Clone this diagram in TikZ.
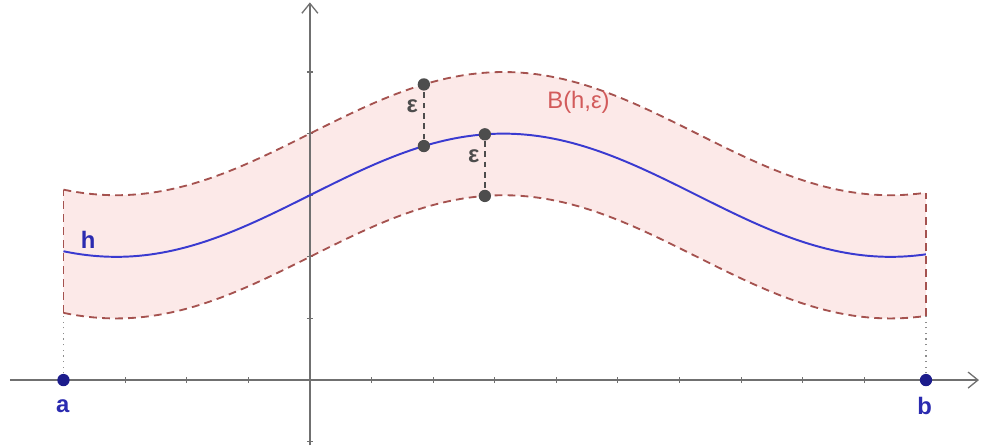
\documentclass[tikz,border=0pt]{standalone}
\usepackage{fontspec}
\setmainfont{Liberation Sans}
\usetikzlibrary{arrows.meta}
\definecolor{bandc}{HTML}{A5524F}
\definecolor{bandfill}{HTML}{FCE9E8}
\definecolor{curvec}{HTML}{3A3AD0}
\definecolor{ptc}{HTML}{1C1C8C}
\definecolor{labc}{HTML}{2B2BB0}
\definecolor{axc}{HTML}{707070}
\definecolor{dotc}{HTML}{4D4D4D}
\definecolor{bandlab}{HTML}{D25B5B}
\tikzset{
  axisline/.style={axc,line width=0.6pt,-{Straight Barb[length=1.6mm,width=2.6mm]}},
  tickmark/.style={axc,line width=0.5pt},
  bandline/.style={bandc,line width=0.85pt,dash pattern=on 3.6pt off 2.4pt},
  curveline/.style={curvec,line width=0.9pt},
  guide/.style={axc!80,line width=0.6pt,dotted},
  epsline/.style={dotc,line width=0.75pt,dash pattern=on 2.6pt off 2.2pt},
  dotpt/.style={circle,fill=dotc,inner sep=0pt,minimum size=2mm},
  endpt/.style={circle,fill=ptc,inner sep=0pt,minimum size=2mm},
  lab/.style={font=\fontsize{11pt}{13pt}\selectfont,inner sep=1pt}
}
\begin{document}
\begin{tikzpicture}[x=1cm,y=1cm,declare function={h(\x)=3+sin(deg(\x/2));}]
\useasboundingbox (-5.03,-1.088) rectangle (10.974,6.169);
% band fill
\fill[bandfill] plot[domain=-4:10,samples=120] (\x,{h(\x)+1}) -- plot[domain=10:-4,samples=120] (\x,{h(\x)-1}) -- cycle;
% axes
\coordinate (xs) at (-4.87,0);
\coordinate (xe) at (10.86,0);
\coordinate (ys) at (0,-1.06);
\coordinate (ye) at (0,6.13);
\draw[axisline] (xs) -- (xe);
\draw[axisline] (ys) -- (ye);
\foreach \i in {-4,...,10} {\draw[tickmark] (\i,-0.05) -- (\i,0.05);}
\foreach \j in {-1,...,5} {\draw[tickmark] (-0.05,\j) -- (0.05,\j);}
% end points
\node[endpt] (a) at (-4,0) {};
\node[endpt] (b) at (10,0) {};
\coordinate (aL) at (-4,{h(-4)-1});
\coordinate (aU) at (-4,{h(-4)+1});
\coordinate (bL) at (10,{h(10)-1});
\coordinate (bU) at (10,{h(10)+1});
\draw[guide] (a) -- (aL);
\draw[guide] (b) -- (bL);
\draw[bandline] (aL) -- (aU);
\draw[bandline] (bL) -- (bU);
% band edges
\draw[bandline] plot[domain=-4:10,samples=120] (\x,{h(\x)+1});
\draw[bandline] plot[domain=-4:10,samples=120] (\x,{h(\x)-1});
% curve h
\draw[curveline] plot[domain=-4:10,samples=150] (\x,{h(\x)});
% epsilon markers
\node[dotpt] (p1) at (1.85,{h(1.85)}) {};
\node[dotpt] (q1) at (1.85,{h(1.85)+1}) {};
\node[dotpt] (p2) at (2.84,{h(2.84)}) {};
\node[dotpt] (q2) at (2.84,{h(2.84)-1}) {};
\draw[epsline] (p1) -- (q1);
\draw[epsline] (p2) -- (q2);
% labels
\node[lab,text=dotc,font=\fontsize{11pt}{13pt}\selectfont\bfseries] (e1) at (1.66,4.45) {ε};
\node[lab,text=dotc,font=\fontsize{11pt}{13pt}\selectfont\bfseries] (e2) at (2.66,3.63) {ε};
\node[lab,text=bandlab] (B) at (4.36,4.5) {B(h,ε)};
\node[lab,text=labc,font=\fontsize{11pt}{13pt}\selectfont\bfseries] (hl) at (-3.6,2.28) {h};
\node[lab,text=labc,font=\fontsize{11pt}{13pt}\selectfont\bfseries] (al) at (-4.01,-0.42) {a};
\node[lab,text=labc,font=\fontsize{11pt}{13pt}\selectfont\bfseries] (bl) at (9.98,-0.42) {b};
\end{tikzpicture}
\end{document}
